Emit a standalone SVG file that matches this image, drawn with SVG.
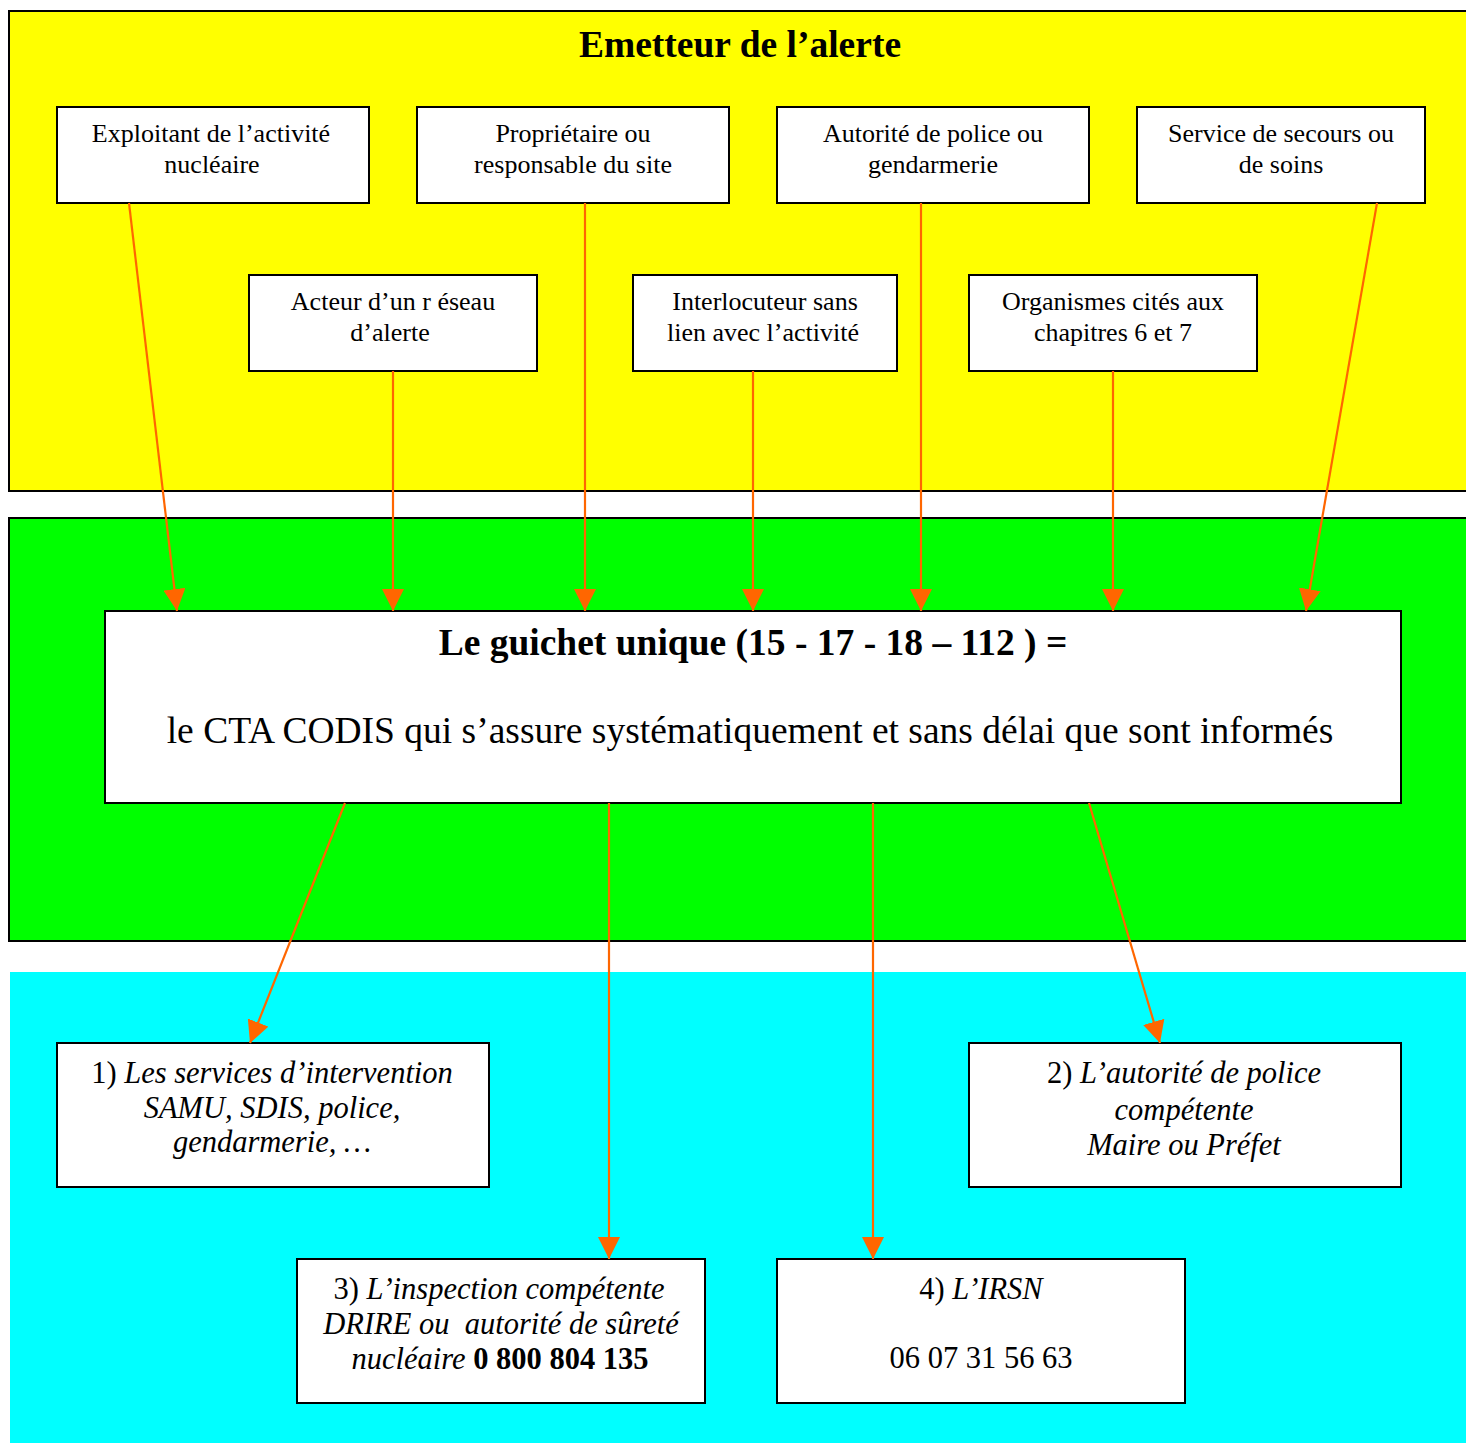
<svg xmlns="http://www.w3.org/2000/svg" width="1466" height="1443" viewBox="0 0 1466 1443">
<style>
.box{fill:#fff;stroke:#000;stroke-width:2}
.t{font-family:"Liberation Serif","Times New Roman",serif;fill:#000;text-anchor:middle}
.s{font-size:26px}
.b{font-size:30.5px}
.c{font-size:37.5px}
.i{font-style:italic}
.bold{font-weight:bold}
.con{stroke:#ff6600;stroke-width:2.2;fill:none;marker-end:url(#ah)}
</style>
<defs>
<marker id="ah" markerUnits="userSpaceOnUse" markerWidth="22" markerHeight="22" viewBox="0 0 22 22" refX="22" refY="11" orient="auto">
<path d="M0,0 L22,11 L0,22 Z" fill="#ff6600"/>
</marker>
</defs>
<rect width="1466" height="1443" fill="#fff"/>
<g id="panels">
<rect x="9" y="11" width="1470" height="480" fill="#ffff00" stroke="#000" stroke-width="2"/>
<rect x="9" y="518" width="1470" height="423" fill="#00ff00" stroke="#000" stroke-width="2"/>
<rect x="10" y="972" width="1470" height="480" fill="#00ffff"/>
<text class="t c bold" x="740" y="57">Emetteur de l’alerte</text>
</g>
<g id="n1"><rect class="box" x="57" y="107" width="312" height="96"/><text class="t s" x="211" y="142">Exploitant de l’activité</text><text class="t s" x="212" y="173">nucléaire</text></g>
<g id="n2"><rect class="box" x="417" y="107" width="312" height="96"/><text class="t s" x="573" y="142">Propriétaire ou</text><text class="t s" x="573" y="173">responsable du site</text></g>
<g id="n3"><rect class="box" x="777" y="107" width="312" height="96"/><text class="t s" x="933" y="142">Autorité de police ou</text><text class="t s" x="933" y="173">gendarmerie</text></g>
<g id="n4"><rect class="box" x="1137" y="107" width="288" height="96"/><text class="t s" x="1281" y="142">Service de secours ou</text><text class="t s" x="1281" y="173">de soins</text></g>
<g id="n5"><rect class="box" x="249" y="275" width="288" height="96"/><text class="t s" x="393" y="310">Acteur d’un r éseau</text><text class="t s" x="390" y="341">d’alerte</text></g>
<g id="n6"><rect class="box" x="633" y="275" width="264" height="96"/><text class="t s" x="765" y="310">Interlocuteur sans</text><text class="t s" x="763" y="341">lien avec l’activité</text></g>
<g id="n7"><rect class="box" x="969" y="275" width="288" height="96"/><text class="t s" x="1113" y="310">Organismes cités aux</text><text class="t s" x="1113" y="341">chapitres 6 et 7</text></g>
<g id="center"><rect class="box" x="105" y="611" width="1296" height="192"/><text class="t c bold" x="753" y="655">Le guichet unique (15 - 17 - 18 – 112 ) =</text><text class="t c" x="750" y="743">le CTA CODIS qui s’assure systématiquement et sans délai que sont informés</text></g>
<g id="d1"><rect class="box" x="57" y="1043" width="432" height="144"/><text class="t b" x="272" y="1083">1) <tspan class="i">Les services d’intervention</tspan></text><text class="t b i" x="272" y="1118">SAMU, SDIS, police,</text><text class="t b i" x="272" y="1152">gendarmerie, …</text></g>
<g id="d2"><rect class="box" x="969" y="1043" width="432" height="144"/><text class="t b" x="1184" y="1083">2) <tspan class="i">L’autorité de police</tspan></text><text class="t b i" x="1184" y="1120">compétente</text><text class="t b i" x="1184" y="1155">Maire ou Préfet</text></g>
<g id="d3"><rect class="box" x="297" y="1259" width="408" height="144"/><text class="t b" x="499" y="1299">3) <tspan class="i">L’inspection compétente</tspan></text><text class="t b i" x="501" y="1334">DRIRE ou&#160; autorité de sûreté</text><text class="t b" x="500" y="1369"><tspan class="i">nucléaire</tspan> <tspan class="bold">0 800 804 135</tspan></text></g>
<g id="d4"><rect class="box" x="777" y="1259" width="408" height="144"/><text class="t b" x="981" y="1299">4) <tspan class="i">L’IRSN</tspan></text><text class="t b" x="981" y="1368">06 07 31 56 63</text></g>
<g id="connectors">
<line class="con" x1="129" y1="203" x2="177" y2="611"/>
<line class="con" x1="393" y1="371" x2="393" y2="611"/>
<line class="con" x1="585" y1="203" x2="585" y2="611"/>
<line class="con" x1="753" y1="371" x2="753" y2="611"/>
<line class="con" x1="921" y1="203" x2="921" y2="611"/>
<line class="con" x1="1113" y1="371" x2="1113" y2="611"/>
<line class="con" x1="1377" y1="203" x2="1306" y2="611"/>
<line class="con" x1="345" y1="803" x2="250" y2="1043"/>
<line class="con" x1="609" y1="803" x2="609" y2="1259"/>
<line class="con" x1="873" y1="803" x2="873" y2="1259"/>
<line class="con" x1="1089" y1="803" x2="1160" y2="1043"/>
</g>
</svg>
